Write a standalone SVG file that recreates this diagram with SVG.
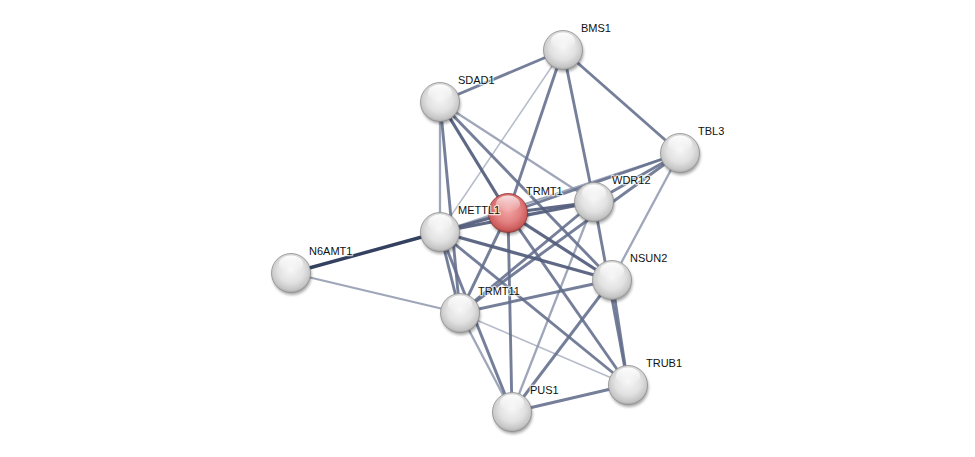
<svg xmlns="http://www.w3.org/2000/svg" xmlns:xlink="http://www.w3.org/1999/xlink" width="975" height="457" viewBox="0 0 975 457">
<defs>
<style>
.edge line{fill:none;stroke-linecap:butt}
.e1{stroke:#33405f;stroke-width:3.4}
.e2{stroke:#515c7c;stroke-width:3.2;stroke-opacity:0.92}
.e3{stroke:#626d8b;stroke-width:2.9;stroke-opacity:0.88}
.e4{stroke:#8e96ad;stroke-width:2.3;stroke-opacity:0.85}
.e5{stroke:#a9afc1;stroke-width:1.5;stroke-opacity:0.85}
.node text{font-family:"Liberation Sans",Arial,sans-serif;font-size:11px;fill:#111;stroke:#fff;stroke-width:2.5;stroke-opacity:0.7;paint-order:stroke;stroke-linejoin:round}
</style>
<filter id="blur" x="-50%" y="-50%" width="200%" height="200%"><feGaussianBlur stdDeviation="1.6"/></filter>
<radialGradient id="gW" cx="0.5" cy="0.42" r="0.6">
<stop offset="0" stop-color="#f6f6f6"/>
<stop offset="0.55" stop-color="#e2e2e2"/>
<stop offset="0.85" stop-color="#c6c6c6"/>
<stop offset="1" stop-color="#a4a4a4"/>
</radialGradient>
<radialGradient id="gR" cx="0.5" cy="0.42" r="0.6">
<stop offset="0" stop-color="#f3a6a6"/>
<stop offset="0.55" stop-color="#e27f7f"/>
<stop offset="0.85" stop-color="#cc5c5c"/>
<stop offset="1" stop-color="#a33c3c"/>
</radialGradient>
<linearGradient id="hl" x1="0" y1="0" x2="0" y2="1">
<stop offset="0" stop-color="#fff" stop-opacity="0.95"/>
<stop offset="1" stop-color="#fff" stop-opacity="0"/>
</linearGradient>
<g id="ballW">
<circle cx="1" cy="2.5" r="19.5" fill="#000" opacity="0.35" filter="url(#blur)"/>
<circle r="19.5" fill="url(#gW)" stroke="#8f8f8f" stroke-width="0.8"/>
<ellipse cx="0" cy="-9" rx="12" ry="8.5" fill="url(#hl)"/>
</g>
<g id="ballR">
<circle cx="1" cy="2.5" r="19.5" fill="#000" opacity="0.35" filter="url(#blur)"/>
<circle r="19.5" fill="url(#gR)" stroke="#8e3434" stroke-width="0.8"/>
<ellipse cx="0" cy="-9" rx="12" ry="8.5" fill="url(#hl)" opacity="0.8"/>
</g>
</defs>
<rect width="975" height="457" fill="#fff"/>
<g id="edges" class="edge">
<line class="e5" x1="563" y1="50" x2="440" y2="232"/>
<line class="e5" x1="460" y1="313" x2="628" y2="385"/>
<line class="e4" x1="440" y1="102" x2="440" y2="232"/>
<line class="e4" x1="440" y1="102" x2="594" y2="202"/>
<line class="e4" x1="680" y1="153" x2="440" y2="232"/>
<line class="e4" x1="680" y1="153" x2="612" y2="280"/>
<line class="e4" x1="291" y1="273" x2="460" y2="313"/>
<line class="e4" x1="594" y1="202" x2="512" y2="412"/>
<line class="e4" x1="460" y1="313" x2="512" y2="412"/>
<line class="e3" x1="563" y1="50" x2="440" y2="102"/>
<line class="e3" x1="563" y1="50" x2="680" y2="153"/>
<line class="e3" x1="563" y1="50" x2="508" y2="213"/>
<line class="e3" x1="563" y1="50" x2="594" y2="202"/>
<line class="e3" x1="440" y1="102" x2="460" y2="313"/>
<line class="e3" x1="440" y1="102" x2="612" y2="280"/>
<line class="e3" x1="680" y1="153" x2="594" y2="202"/>
<line class="e3" x1="680" y1="153" x2="508" y2="213"/>
<line class="e3" x1="680" y1="153" x2="460" y2="313"/>
<line class="e3" x1="440" y1="232" x2="460" y2="313"/>
<line class="e3" x1="440" y1="232" x2="512" y2="412"/>
<line class="e3" x1="440" y1="232" x2="628" y2="385"/>
<line class="e3" x1="508" y1="213" x2="460" y2="313"/>
<line class="e3" x1="508" y1="213" x2="512" y2="412"/>
<line class="e3" x1="508" y1="213" x2="628" y2="385"/>
<line class="e3" x1="594" y1="202" x2="460" y2="313"/>
<line class="e3" x1="594" y1="202" x2="628" y2="385"/>
<line class="e3" x1="612" y1="280" x2="460" y2="313"/>
<line class="e3" x1="612" y1="280" x2="512" y2="412"/>
<line class="e3" x1="612" y1="280" x2="628" y2="385"/>
<line class="e3" x1="512" y1="412" x2="628" y2="385"/>
<line class="e2" x1="440" y1="102" x2="508" y2="213"/>
<line class="e2" x1="440" y1="232" x2="508" y2="213"/>
<line class="e2" x1="440" y1="232" x2="594" y2="202"/>
<line class="e2" x1="508" y1="213" x2="594" y2="202"/>
<line class="e2" x1="440" y1="232" x2="612" y2="280"/>
<line class="e2" x1="508" y1="213" x2="612" y2="280"/>
<line class="e1" x1="291" y1="273" x2="440" y2="232"/>
</g>
<g id="TRMT1" class="node"><use xlink:href="#ballR" x="508" y="213"/><text x="526" y="195">TRMT1</text></g>
<g id="N6AMT1" class="node"><use xlink:href="#ballW" x="291" y="273"/><text x="309" y="255">N6AMT1</text></g>
<g id="PUS1" class="node"><use xlink:href="#ballW" x="512" y="412"/><text x="530" y="394">PUS1</text></g>
<g id="TRUB1" class="node"><use xlink:href="#ballW" x="628" y="385"/><text x="646" y="367">TRUB1</text></g>
<g id="TRMT11" class="node"><use xlink:href="#ballW" x="460" y="313"/><text x="478" y="295">TRMT11</text></g>
<g id="NSUN2" class="node"><use xlink:href="#ballW" x="612" y="280"/><text x="630" y="262">NSUN2</text></g>
<g id="METTL1" class="node"><use xlink:href="#ballW" x="440" y="232"/><text x="458" y="214">METTL1</text></g>
<g id="WDR12" class="node"><use xlink:href="#ballW" x="594" y="202"/><text x="612" y="184">WDR12</text></g>
<g id="TBL3" class="node"><use xlink:href="#ballW" x="680" y="153"/><text x="698" y="135">TBL3</text></g>
<g id="SDAD1" class="node"><use xlink:href="#ballW" x="440" y="102"/><text x="458" y="84">SDAD1</text></g>
<g id="BMS1" class="node"><use xlink:href="#ballW" x="563" y="50"/><text x="581" y="32">BMS1</text></g>
</svg>
